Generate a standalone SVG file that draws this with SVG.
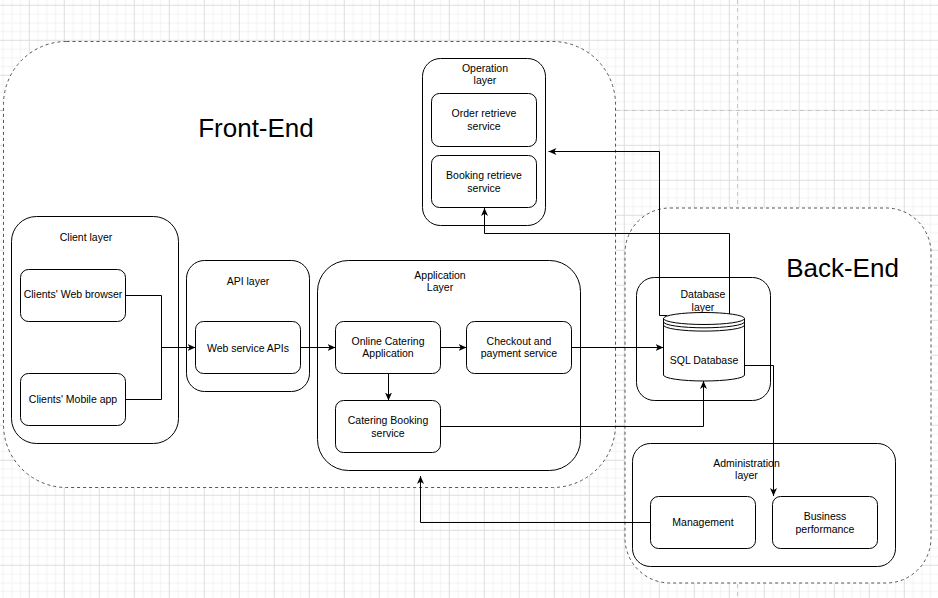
<svg xmlns="http://www.w3.org/2000/svg" width="938" height="598" viewBox="0 0 938 598">
<defs>
<pattern id="grid" x="28.8" y="4.8" width="35" height="35" patternUnits="userSpaceOnUse">
<path d="M9.25,0 V35 M18,0 V35 M26.75,0 V35 M0,9.25 H35 M0,18 H35 M0,26.75 H35" stroke="#f2f2f2" stroke-width="1" fill="none"/>
<path d="M0.5,0 V35 M0,0.5 H35" stroke="#dedede" stroke-width="1" fill="none"/>
</pattern>
<marker id="arr" markerUnits="userSpaceOnUse" markerWidth="9" markerHeight="8" refX="8" refY="4" orient="auto">
<path d="M0,0.5 L8,4 L0,7.5 L2.2,4 Z" fill="#000"/>
</marker>
<style>
.grp{fill:#fff;stroke:#555;stroke-width:1;stroke-dasharray:3 3}
.box{fill:#fff;stroke:#000;stroke-width:1}
.t{font-family:"Liberation Sans",Arial,Helvetica,sans-serif;font-size:10.5px;fill:#000;text-anchor:middle}
.big{font-family:"Liberation Sans",Arial,Helvetica,sans-serif;font-size:26px;fill:#000;text-anchor:middle}
.c{fill:none;stroke:#000;stroke-width:1}
.ca{fill:none;stroke:#000;stroke-width:1;marker-end:url(#arr)}
.pb{stroke:#c6c6c6;stroke-width:1;stroke-dasharray:4 4;fill:none}
</style>
</defs>
<rect x="0" y="0" width="938" height="598" fill="#fff"/>
<rect x="0" y="0" width="938" height="598" fill="url(#grid)"/>
<path class="pb" d="M737.5,0 V598 M0,110.5 H938"/>

<g id="front-end">
<rect class="grp" x="3.5" y="41.5" width="612" height="446" rx="63" ry="63"/>
<text class="big" x="256" y="136.5">Front-End</text>
</g>
<g id="back-end">
<rect class="grp" x="625" y="208" width="306" height="375" rx="45" ry="45"/>
<text class="big" x="842.5" y="276.5">Back-End</text>
</g>

<g id="client-layer">
<rect class="box" x="11.5" y="216.5" width="167" height="227" rx="25"/>
<text class="t" x="86" y="241">Client layer</text>
</g>
<g id="web-browser">
<rect class="box" x="20.5" y="269.5" width="105" height="52" rx="8"/>
<text class="t" x="73" y="298">Clients' Web browser</text>
</g>
<g id="mobile-app">
<rect class="box" x="20.5" y="373.5" width="105" height="52" rx="8"/>
<text class="t" x="73" y="402.5">Clients' Mobile app</text>
</g>

<g id="api-layer">
<rect class="box" x="186.5" y="260.5" width="123" height="131" rx="18"/>
<text class="t" x="248" y="285">API layer</text>
</g>
<g id="web-service-apis">
<rect class="box" x="195.5" y="321.5" width="105" height="52" rx="8"/>
<text class="t" x="248" y="351.5">Web service APIs</text>
</g>

<g id="application-layer">
<rect class="box" x="317.5" y="260.5" width="263" height="210" rx="31"/>
<text class="t" x="440" y="278.5">Application</text>
<text class="t" x="440" y="291">Layer</text>
</g>
<g id="online-catering">
<rect class="box" x="335.5" y="321.5" width="105" height="52" rx="8"/>
<text class="t" x="388" y="344.5">Online Catering</text>
<text class="t" x="388" y="357">Application</text>
</g>
<g id="checkout">
<rect class="box" x="466.5" y="321.5" width="105" height="52" rx="8"/>
<text class="t" x="519" y="344.5">Checkout and</text>
<text class="t" x="519" y="357">payment service</text>
</g>
<g id="catering-booking">
<rect class="box" x="335.5" y="400.5" width="105" height="52" rx="8"/>
<text class="t" x="388" y="424">Catering Booking</text>
<text class="t" x="388" y="436.5">service</text>
</g>

<g id="operation-layer">
<rect class="box" x="422.5" y="58.5" width="123" height="167" rx="18"/>
<text class="t" x="485" y="71.5">Operation</text>
<text class="t" x="485" y="84">layer</text>
</g>
<g id="order-retrieve">
<rect class="box" x="431.5" y="93.5" width="105" height="53" rx="8"/>
<text class="t" x="484" y="117">Order retrieve</text>
<text class="t" x="484" y="129.5">service</text>
</g>
<g id="booking-retrieve">
<rect class="box" x="431.5" y="155.5" width="105" height="52" rx="8"/>
<text class="t" x="484" y="179">Booking retrieve</text>
<text class="t" x="484" y="191.5">service</text>
</g>

<g id="database-layer">
<rect class="box" x="636.5" y="277.5" width="134" height="123" rx="18"/>
<text class="t" x="703" y="298">Database</text>
<text class="t" x="703" y="310.5">layer</text>
</g>

<g id="administration-layer">
<rect class="box" x="632.5" y="443.5" width="263" height="123" rx="18"/>
<text class="t" x="746.5" y="466.5">Administration</text>
<text class="t" x="746.5" y="479">layer</text>
</g>
<g id="management">
<rect class="box" x="650.5" y="496.5" width="105" height="52" rx="8"/>
<text class="t" x="703" y="525.5">Management</text>
</g>
<g id="business-performance">
<rect class="box" x="772.5" y="496.5" width="105" height="52" rx="8"/>
<text class="t" x="825" y="520">Business</text>
<text class="t" x="825" y="532.5">performance</text>
</g>

<g id="connectors">
<path class="c" d="M126,295.5 H161.5 V348"/>
<path class="ca" d="M126,399.5 H161.5 V347.5 H195.5"/>
<path class="ca" d="M301,347.5 H335.5"/>
<path class="ca" d="M441,347.5 H466.5"/>
<path class="ca" d="M388.5,374 V400.5"/>
<path class="ca" d="M572,347.5 H663.5"/>
<path class="ca" d="M441,426.5 H703.5 V381"/>
<path class="ca" d="M744.5,365.5 H773.5 V496"/>
<path class="ca" d="M650.5,522.5 H420.5 V476"/>
<path class="ca" d="M667,315.5 H659.5 V151.5 H548.5"/>
<path class="ca" d="M729.5,314 V233.5 H484.5 V208"/>
</g>

<g id="sql-database">
<path class="box" d="M663.5,318.5 A40.5,6 0 0 1 744.5,318.5 V375 A40.5,6 0 0 1 663.5,375 Z"/>
<path class="c" d="M663.5,318.5 A40.5,6 0 0 0 744.5,318.5 M663.5,321.8 A40.5,6 0 0 0 744.5,321.8 M663.5,325.1 A40.5,6 0 0 0 744.5,325.1"/>
<text class="t" x="704" y="363.5">SQL Database</text>
</g>
</svg>
